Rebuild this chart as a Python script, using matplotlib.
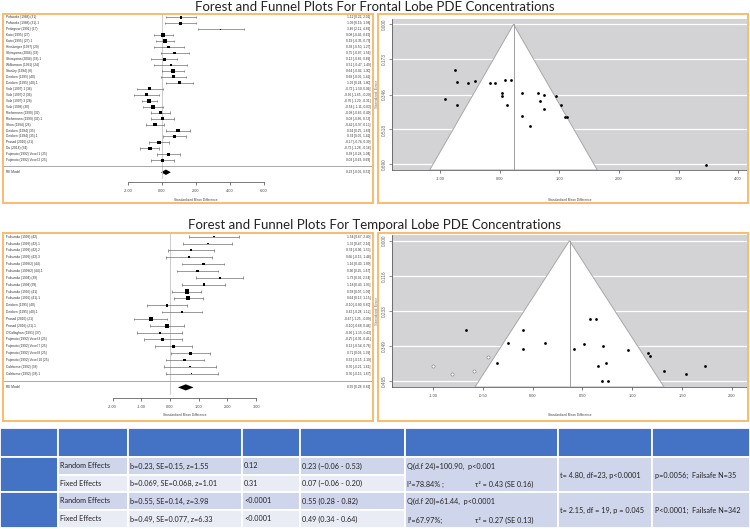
import matplotlib

matplotlib.use("Agg")

import matplotlib.pyplot as plt
import numpy as np
from matplotlib.patches import Polygon, Rectangle

W, H = 750, 529

# ---- frontal lobe studies ----
fr_labels = [
    "Polwarka (1988) (31)", "Polwarka (1988) (31).1", "Pettegrew (1991) (17)",
    "Kato (1995) (27)", "Kato (1995) (27).1", "Hinsberger (1997) (29)",
    "Shirayama (2004) (33)", "Shirayama (2004) (33).1", "Williamson (1991) (24)",
    "Stanley (1994) (8)", "Deicken (1995) (40)", "Deicken (1995) (40).1",
    "Volz (1997) 1 (36)", "Volz (1997) 2 (36)", "Volz (1997) 3 (28)",
    "Volz (1998) (30)", "Riehemann (1999) (32)", "Riehemann (1999) (32).1",
    "Shon (1994) (26)", "Deicken (1994) (35)", "Deicken (1994) (35).1",
    "Prasad (2016) (21)", "Du (2014) (34)", "Fujimoto (1992) Voxel 1 (25)",
    "Fujimoto (1992) Voxel 2 (25)",
]
fr_est = [1.12, 1.09, 3.46, 0.08, 0.19, 0.38, 0.75, 0.12, 0.51, 0.64, 0.68, 1.02,
          -0.72, -0.92, -0.76, -0.54, -0.08, 0.03, -0.42, 0.94, 0.74, -0.17, -0.72, 0.38, 0.03]
fr_lo = [0.22, 0.19, 2.11, -0.46, -0.35, -0.50, -0.07, -0.66, -0.47, -0.02, -0.06, 0.24,
         -1.50, -1.65, -1.20, -1.11, -0.65, -0.66, -0.97, 0.25, 0.06, -0.74, -1.28, -0.28, -0.63]
fr_hi = [2.01, 1.98, 4.82, 0.62, 0.73, 1.27, 1.56, 0.89, 1.49, 1.30, 1.42, 1.80,
         0.06, -0.20, -0.31, 0.03, 0.49, 0.72, 0.13, 1.63, 1.42, 0.39, -0.16, 1.04, 0.69]
fr_re = (0.23, -0.06, 0.52)
fr_tau2 = 0.43

# ---- temporal lobe studies ----
tp_labels = [
    "Fukuzako (1999) (42)", "Fukuzako (1999) (42).1", "Fukuzako (1999) (42).2",
    "Fukuzako (1999) (42).3", "Fukuzako (1999/2) (44)", "Fukuzako (1999/2) (44).1",
    "Fukuzako (1994) (39)", "Fukuzako (1994)(39)", "Fukuzako (1996) (41)",
    "Fukuzako (1996) (41).1", "Deicken (1995) (40)", "Deicken (1995) (40).1",
    "Prasad (2016) (21)", "Prasad (2016) (21).1", "O'Callaghan (1991) (37)",
    "Fujimoto (1992) Voxel 3 (25)", "Fujimoto (1992) Voxel 7 (25)",
    "Fujimoto (1992) Voxel 8 (25)", "Fujimoto (1992) Voxel 10 (25)",
    "Calabrese (1992) (38)", "Calabrese (1992) (38).1",
]
tp_est = [1.54, 1.32, 0.74, 0.66, 1.16, 0.96, 1.73, 1.18, 0.58, 0.64, -0.10, 0.42,
          -0.67, -0.10, -0.36, -0.25, 0.12, 0.71, 0.52, 0.70, 0.76]
tp_lo = [0.67, 0.47, -0.06, -0.15, 0.43, 0.25, 0.92, 0.43, 0.07, 0.13, -0.80, -0.28,
         -1.25, -0.68, -1.15, -0.91, -0.54, 0.03, -0.15, -0.21, -0.15]
tp_hi = [2.40, 2.16, 1.53, 1.48, 1.89, 1.67, 2.54, 1.93, 1.09, 1.15, 0.60, 1.12,
         -0.09, 0.48, 0.43, 0.41, 0.78, 1.39, 1.19, 1.61, 1.67]
tp_re = (0.55, 0.28, 0.82)
tp_tau2 = 0.27
tp_funnel_center = 0.37
tp_fill_est = [-1.00, -0.81, -0.59, -0.45]
tp_fill_se = [0.413, 0.441, 0.431, 0.383]

# ---- summary table ----
tbl_model = ["Random Effects", "Fixed Effects", "Random Effects", "Fixed Effects"]
tbl_coef = ["b=0.23, SE=0.15, z=1.55", "b=0.069, SE=0.068, z=1.01",
            "b=0.55, SE=0.14, z=3.98", "b=0.49, SE=0.077, z=6.33"]
tbl_p = ["0.12", "0.31", "<0.0001", "<0.0001"]
tbl_ci = ["0.23 (\u22120.06 - 0.53)", "0.07 (\u22120.06 - 0.20)",
          "0.55 (0.28 - 0.82)", "0.49 (0.34 - 0.64)"]
tbl_q = ["Q(d.f 24)=100.90,  p<0.001", "Q(d.f 20)=61.44,  p<0.0001"]
tbl_i2 = ["I\u00b2=78.84% ;", "I\u00b2=67.97%;"]
tbl_tau = ["\u03c4\u00b2 = 0.43 (SE 0.16)", "\u03c4\u00b2 = 0.27 (SE 0.13)"]
tbl_egger = ["t= 4.80, df=23, p<0.0001", "t= 2.15, df = 19, p = 0.045"]
tbl_failsafe = ["p=0.0056;  Failsafe N=35", "P<0.0001;  Failsafe N=342"]

ORANGE = "#F8BC6E"
GREY_BG = "#D3D3D5"
FONT = ["Liberation Sans", "DejaVu Sans"]

fig = plt.figure(figsize=(7.5, 5.29), dpi=100)


def px_rect(l, t, r, b):
    return [l / W, 1 - b / H, (r - l) / W, (b - t) / H]


def orange_box(l, t, r, b):
    fig.add_artist(Rectangle((l / W, 1 - b / H), (r - l) / W, (b - t) / H,
                             transform=fig.transFigure, fill=False, ec=ORANGE, lw=1.4))


def forest(rect, labels, est, lo, hi, re, tau2, zero_px, ppu, row0_px, row_px, ticks, axis_px, xlab_px):
    l, t, r, b = rect
    ax = fig.add_axes(px_rect(l, t, r, b))
    ax.patch.set_alpha(0)
    ax.set_xlim((l - zero_px) / ppu, (r - zero_px) / ppu)
    ytop, ybot = (t - row0_px) / row_px, (b - row0_px) / row_px
    ax.set_ylim(ybot, ytop)
    est, lo, hi = map(np.asarray, (est, lo, hi))
    k = len(est)
    y = np.arange(k)
    axis_row = (axis_px - row0_px) / row_px

    ax.plot([0, 0], [ytop, axis_row - 0.6], color="#c4c4c4", lw=0.6)
    ax.hlines(y, lo, hi, color="#606060", lw=0.45)
    ax.vlines(np.r_[lo, hi], np.r_[y, y] - 0.2, np.r_[y, y] + 0.2, color="#606060", lw=0.45)
    se = (hi - lo) / 3.92
    w = 1 / (se ** 2 + tau2)
    ms = 0.9 + 2.0 * (w - w.min()) / (w.max() - w.min())
    ax.scatter(est, y, marker="s", s=ms ** 2, c="black", lw=0, zorder=3)

    xl = (l + 1.5 - zero_px) / ppu
    xr = (r - 1.5 - zero_px) / ppu
    for i in range(k):
        ax.text(xl, i, labels[i], fontsize=2.3, va="center", ha="left", family=FONT, color="#333333")
        ax.text(xr, i, f"{est[i]:.2f} [{lo[i]:.2f}, {hi[i]:.2f}]", fontsize=2.3,
                va="center", ha="right", family=FONT, color="#333333")

    ax.axhline(k, color="#9a9a9a", lw=0.6)
    e, rl, rh = re
    ax.add_patch(Polygon([[rl, k + 1], [e, k + 1 - 0.45], [rh, k + 1], [e, k + 1 + 0.45]],
                         closed=True, color="black", lw=0))
    ax.text(xl, k + 1, "RE Model", fontsize=2.3, va="center", ha="left", family=FONT, color="#333333")
    ax.text(xr, k + 1, f"{e:.2f} [{rl:.2f}, {rh:.2f}]", fontsize=2.3, va="center",
            ha="right", family=FONT, color="#333333")

    for s in ["top", "right", "left"]:
        ax.spines[s].set_visible(False)
    ax.spines["bottom"].set_position(("data", axis_row))
    ax.spines["bottom"].set_bounds(ticks[0], ticks[-1])
    ax.spines["bottom"].set_linewidth(0.5)
    ax.spines["bottom"].set_color("#444444")
    ax.set_yticks([])
    ax.set_xticks(ticks)
    ax.set_xticklabels([f"{v:.2f}" for v in ticks], family=FONT)
    ax.tick_params(axis="x", length=2.5, width=0.5, labelsize=2.8, pad=2.5, colors="#444444")
    ax.text(np.mean([ticks[0], ticks[-1]]), (xlab_px - row0_px) / row_px,
            "Standardized Mean Difference", fontsize=2.3, ha="center", va="center",
            family=FONT, color="#444444")
    return ax


def funnel(rect, est, se, center, xlim, ylim, xticks, yticks, xlab_px, fill_est=None, fill_se=None):
    l, t, r, b = rect
    ax = fig.add_axes(px_rect(l, t, r, b))
    ax.set_facecolor(GREY_BG)
    ax.set_xlim(xlim)
    ax.set_ylim(ylim)
    ymax = ylim[0]
    for yt in yticks:
        ax.axhline(yt, color="white", lw=0.9, zorder=1)
    ax.add_patch(Polygon([[center - 1.96 * ymax, ymax], [center, 0], [center + 1.96 * ymax, ymax]],
                         closed=True, fc="white", ec="#a8a8a8", lw=0.7, zorder=2))
    ax.plot([center, center], [0, ymax], color="#a0a0a0", lw=0.7, zorder=3)
    ax.scatter(est, se, s=4, c="black", lw=0, zorder=4)
    if fill_est is not None:
        ax.scatter(fill_est, fill_se, s=5, facecolors="white", edgecolors="#777777", lw=0.4, zorder=4)
    for s in ["top", "right"]:
        ax.spines[s].set_visible(False)
    for s in ["left", "bottom"]:
        ax.spines[s].set_linewidth(0.5)
        ax.spines[s].set_color("#444444")
    ax.set_xticks(xticks)
    ax.set_xticklabels([f"{v:.2f}" for v in xticks], family=FONT)
    ax.set_yticks(yticks)
    ax.set_yticklabels([f"{v:.3f}" for v in yticks], family=FONT, rotation=90, va="center")
    ax.tick_params(axis="x", length=2.5, width=0.5, labelsize=2.8, pad=2.5, colors="#444444")
    ax.tick_params(axis="y", length=2.5, width=0.5, labelsize=3.4, pad=1.5, colors="#666666")
    ax.set_ylabel("Standard Error", fontsize=3.2, family=FONT, color="#777777", labelpad=2)
    fig.text((l + r) / 2 / W, 1 - xlab_px / H, "Standardized Mean Difference", fontsize=2.3,
             ha="center", va="center", family=FONT, color="#444444")
    return ax


# titles
fig.text(0.5, 1 - 7 / H, "Forest and Funnel Plots For Frontal Lobe PDE Concentrations",
         ha="center", va="center", fontsize=9.5, family=["Lato", "DejaVu Sans"], color="#222222")
fig.text(0.5, 1 - 225 / H, "Forest and Funnel Plots For Temporal Lobe PDE Concentrations",
         ha="center", va="center", fontsize=9.5, family=["Lato", "DejaVu Sans"], color="#222222")

# frontal panels
orange_box(3, 14, 373, 203)
orange_box(378, 14, 748, 203)
forest((4, 15, 372, 202), fr_labels, fr_est, fr_lo, fr_hi, fr_re, fr_tau2,
       zero_px=162, ppu=17.0, row0_px=17.3, row_px=5.96,
       ticks=[-2, 0, 2, 4, 6], axis_px=182, xlab_px=200)
fr_se = (np.array(fr_hi) - np.array(fr_lo)) / 3.92
funnel((392, 18.7, 747, 170), fr_est, fr_se, fr_re[0],
       xlim=(-1.81, 4.15), ylim=(0.7176, -0.0276),
       xticks=[-1, 0, 1, 2, 3, 4], yticks=[0.000, 0.173, 0.346, 0.518, 0.690], xlab_px=200)

# temporal panels
orange_box(3, 233, 373, 421)
orange_box(378, 233, 748, 421)
forest((4, 234, 372, 420), tp_labels, tp_est, tp_lo, tp_hi, tp_re, tp_tau2,
       zero_px=170, ppu=28.7, row0_px=236.7, row_px=6.85,
       ticks=[-2, -1, 0, 1, 2, 3], axis_px=398, xlab_px=415)
tp_se = (np.array(tp_hi) - np.array(tp_lo)) / 3.92
funnel((392, 235, 747, 387), tp_est, tp_se, tp_funnel_center,
       xlim=(-1.41, 2.15), ylim=(0.4836, -0.0186),
       xticks=[-1, -0.5, 0, 0.5, 1, 1.5, 2], yticks=[0.000, 0.116, 0.233, 0.349, 0.465],
       xlab_px=415, fill_est=tp_fill_est, fill_se=tp_fill_se)

# summary table
tax = fig.add_axes(px_rect(0, 426, 750, 529))
tax.set_xlim(0, 750)
tax.set_ylim(529, 426)
tax.axis("off")
cols = [0, 58, 128, 242, 300, 405, 558, 652, 750]
rows = [428, 457, 475, 492, 510, 528]
HEAD, DARK, LIGHT = "#4472C4", "#CFD5EA", "#E9EBF5"
TF = ["Lato", "DejaVu Sans"]
TFS = 5.2


def cell(c0, c1, r0, r1, color):
    tax.add_patch(Rectangle((cols[c0], rows[r0]), cols[c1] - cols[c0], rows[r1] - rows[r0],
                            fc=color, ec="white", lw=1.3))


for c in range(8):
    cell(c, c + 1, 0, 1, HEAD)
for g in range(2):
    r = 1 + 2 * g
    cell(0, 1, r, r + 2, HEAD)
    for c in range(1, 5):
        cell(c, c + 1, r, r + 1, DARK)
        cell(c, c + 1, r + 1, r + 2, LIGHT)
    for c in range(5, 8):
        cell(c, c + 1, r, r + 2, DARK)
    tax.text(cols[5] + 2, (rows[r] + rows[r + 1]) / 2, tbl_q[g], fontsize=TFS, family=TF,
             va="center", ha="left", color="#222222")
    tax.text(cols[5] + 2, (rows[r + 1] + rows[r + 2]) / 2 + 1, tbl_i2[g], fontsize=TFS, family=TF,
             va="center", ha="left", color="#222222")
    tax.text(475, (rows[r + 1] + rows[r + 2]) / 2 + 1, tbl_tau[g], fontsize=TFS, family=TF,
             va="center", ha="left", color="#222222")
    tax.text(cols[6] + 2, rows[r + 1], tbl_egger[g], fontsize=TFS, family=TF,
             va="center", ha="left", color="#222222")
    tax.text(cols[7] + 3, rows[r + 1], tbl_failsafe[g], fontsize=TFS, family=TF,
             va="center", ha="left", color="#222222")

for i in range(4):
    yc = (rows[i + 1] + rows[i + 2]) / 2
    for c, txt in zip([1, 2, 3, 4], [tbl_model[i], tbl_coef[i], tbl_p[i], tbl_ci[i]]):
        tax.text(cols[c] + 2, yc, txt, fontsize=TFS, family=TF, va="center", ha="left", color="#222222")

fig.savefig("out.png", dpi=100)
plt.close(fig)
